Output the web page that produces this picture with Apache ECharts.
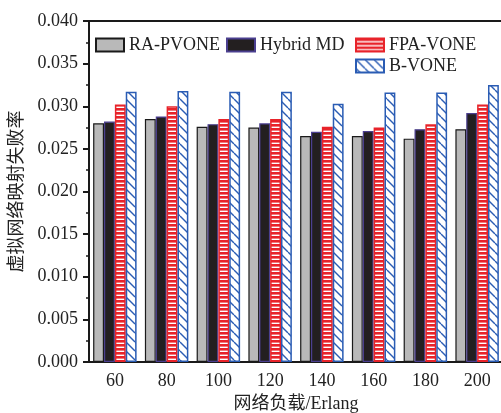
<!DOCTYPE html>
<html><head><meta charset="utf-8">
<script src="https://cdn.jsdelivr.net/npm/echarts@6/dist/echarts.min.js"></script>
<style>html,body{margin:0;padding:0;background:#fff}#c{width:501px;height:413px}</style>
</head><body><div id="c"></div>
<script>
const categories = ['60','80','100','120','140','160','180','200'];
const raPvone  = [0.0280, 0.0285, 0.0276, 0.0275, 0.0265, 0.0265, 0.0262, 0.0273];
const hybridMd = [0.0282, 0.0288, 0.0279, 0.0280, 0.0270, 0.0271, 0.0273, 0.0292];
const fpaVone  = [0.0302, 0.0300, 0.0285, 0.0285, 0.0276, 0.0275, 0.0279, 0.0302];
const bVone    = [0.0317, 0.0318, 0.0317, 0.0317, 0.0303, 0.0316, 0.0316, 0.0325];
const seriesNames = ['RA-PVONE','Hybrid MD','FPA-VONE','B-VONE'];

function redPattern(){
  const c = document.createElement('canvas'); c.width = 8; c.height = 4;
  const g = c.getContext('2d');
  g.fillStyle = '#fff'; g.fillRect(0,0,8,4);
  g.fillStyle = '#e8232a'; g.fillRect(0,0,8,2.6);
  return c;
}
function bluePattern(){
  const c = document.createElement('canvas'); c.width = 9; c.height = 9;
  const g = c.getContext('2d');
  g.fillStyle = '#fff'; g.fillRect(0,0,9,9);
  g.strokeStyle = '#2a5cb4'; g.lineWidth = 1.4;
  [-9,0,9].forEach(x0=>{ g.beginPath(); g.moveTo(x0,0); g.lineTo(x0+9,9); g.stroke(); });
  return c;
}
const FONT = '"Liberation Serif", "Noto Sans CJK SC", serif';
const chart = echarts.init(document.getElementById('c'), null, {renderer:'canvas'});
const styles = [
  {color:'#b9b9b9', borderColor:'#1a1a1a', borderWidth:1.2},
  {color:'#231f20', borderColor:'#4b3f8f', borderWidth:1.2},
  {color:{image:redPattern(), repeat:'repeat'}, borderColor:'#e8232a', borderWidth:1.5},
  {color:{image:bluePattern(), repeat:'repeat'}, borderColor:'#2a5cb4', borderWidth:1.5}
];
const dataArr = [raPvone, hybridMd, fpaVone, bVone];
const legendPos = [[95,36],[226,36],[355,36],[355,57]];
chart.setOption({
  animation:false,
  grid:{left:89, top:21, right:-2, bottom:51, show:false, containLabel:false, outerBoundsMode:'none'},
  legend: seriesNames.map((n,i)=>({
    data:[{name:n, icon:'rect'}], left:legendPos[i][0], top:legendPos[i][1], itemWidth:28, itemHeight:13, itemGap:0,
    padding:0, textStyle:{fontFamily:FONT, fontSize:18, color:'#222', padding:[2,0,0,0]}
  })),
  xAxis:[{
    type:'category', data:categories, boundaryGap:true,
    name:'网络负载/Erlang', nameLocation:'middle', nameGap:32,
    nameTextStyle:{fontFamily:FONT, fontSize:18, color:'#222'},
    axisLine:{lineStyle:{color:'#1a1a1a', width:2}},
    axisTick:{alignWithLabel:true, length:6, lineStyle:{color:'#1a1a1a', width:2}},
    axisLabel:{fontFamily:FONT, fontSize:18, color:'#222', margin:10}
  },{
    type:'category', data:categories, position:'bottom', boundaryGap:true,
    axisLine:{show:false}, axisLabel:{show:false},
    axisTick:{length:4, lineStyle:{color:'#1a1a1a', width:1.5}}
  },{
    type:'category', data:categories, position:'top', boundaryGap:true,
    axisLine:{show:true, lineStyle:{color:'#1a1a1a', width:2}}, axisLabel:{show:false},
    axisTick:{show:false}
  }],
  yAxis:{
    type:'value', min:0, max:0.04, interval:0.005,
    name:'虚拟网络映射失败率', nameLocation:'middle', nameGap:60,
    nameTextStyle:{fontFamily:FONT, fontSize:18, color:'#222'},
    axisLine:{show:true, lineStyle:{color:'#1a1a1a', width:2}},
    axisTick:{show:true, length:6, lineStyle:{color:'#1a1a1a', width:2}},
    minorTick:{show:true, splitNumber:2, length:3, lineStyle:{color:'#1a1a1a', width:1.5}},
    splitLine:{show:false},
    axisLabel:{fontFamily:FONT, fontSize:18, color:'#222', margin:11, formatter:v=>v.toFixed(3)}
  },
  series: seriesNames.map((n,i)=>({
    name:n, type:'bar', data:dataArr[i], xAxisIndex:0,
    barGap:'0%', barCategoryGap:'16%', itemStyle:styles[i]
  }))
});
</script></body></html>
